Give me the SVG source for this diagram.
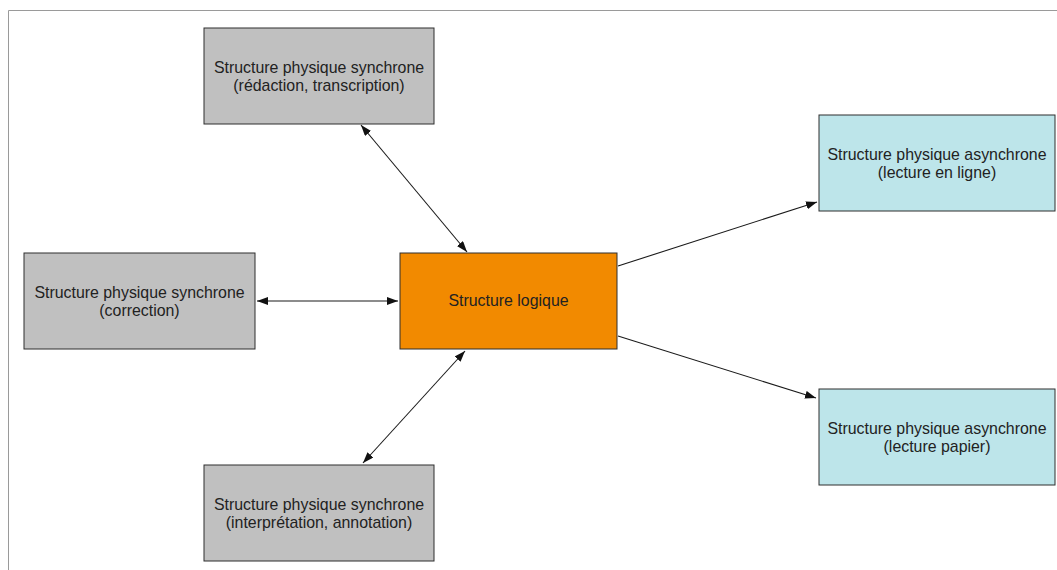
<svg xmlns="http://www.w3.org/2000/svg" width="1057" height="570" viewBox="0 0 1057 570">
<style>
.frame{fill:none;stroke:#9a9a9a;stroke-width:1}
.box{stroke:#2e2e2e;stroke-width:1}
.gray{fill:#c0c0c0}
.orange{fill:#f28a00}
.blue{fill:#bde5ea}
.lbl{font-family:"Liberation Sans",Arial,sans-serif;font-size:15.9px;fill:#222;text-anchor:middle}
.edge{fill:none;stroke:#1a1a1a;stroke-width:1.1}
</style>
<defs>
<marker id="ah" markerUnits="userSpaceOnUse" markerWidth="12" markerHeight="10" refX="11" refY="4" orient="auto-start-reverse">
<path d="M0,0 L11,4 L0,8 z" fill="#111"/>
</marker>
</defs>
<path class="frame" d="M8.5,570 L8.5,10.5 L1057,10.5"/>
<g id="connectors">
<line class="edge" x1="361" y1="125" x2="467" y2="252" marker-start="url(#ah)" marker-end="url(#ah)"/>
<line class="edge" x1="257" y1="301" x2="398" y2="301" marker-start="url(#ah)" marker-end="url(#ah)"/>
<line class="edge" x1="465" y1="351" x2="363" y2="463" marker-start="url(#ah)" marker-end="url(#ah)"/>
<line class="edge" x1="618" y1="266" x2="817" y2="202" marker-end="url(#ah)"/>
<line class="edge" x1="618" y1="336" x2="816" y2="398" marker-end="url(#ah)"/>
</g>
<g id="node-redaction">
<rect class="box gray" x="204" y="28" width="230" height="96"/>
<text class="lbl" x="319" y="73">Structure physique synchrone</text>
<text class="lbl" x="319" y="91">(rédaction, transcription)</text>
</g>
<g id="node-correction">
<rect class="box gray" x="24" y="253" width="231" height="96"/>
<text class="lbl" x="139.5" y="298">Structure physique synchrone</text>
<text class="lbl" x="139.5" y="316">(correction)</text>
</g>
<g id="node-logique">
<rect class="box orange" x="400" y="253" width="217" height="96"/>
<text class="lbl" x="508.5" y="306">Structure logique</text>
</g>
<g id="node-interpretation">
<rect class="box gray" x="204" y="465" width="230" height="96"/>
<text class="lbl" x="319" y="510">Structure physique synchrone</text>
<text class="lbl" x="319" y="528">(interprétation, annotation)</text>
</g>
<g id="node-enligne">
<rect class="box blue" x="819" y="115" width="236" height="96"/>
<text class="lbl" x="937" y="160">Structure physique asynchrone</text>
<text class="lbl" x="937" y="178">(lecture en ligne)</text>
</g>
<g id="node-papier">
<rect class="box blue" x="819" y="389" width="236" height="96"/>
<text class="lbl" x="937" y="434">Structure physique asynchrone</text>
<text class="lbl" x="937" y="452">(lecture papier)</text>
</g>
</svg>
